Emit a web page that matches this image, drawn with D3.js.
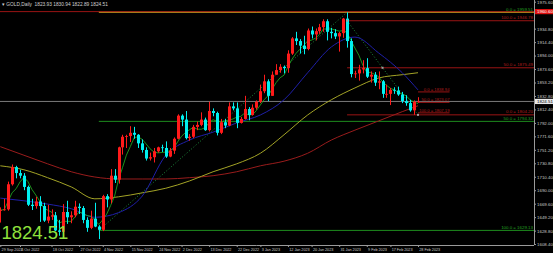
<!DOCTYPE html>
<html>
<head>
<meta charset="utf-8">
<script src="https://cdn.jsdelivr.net/npm/d3@7"></script>
<style>
  body { margin: 0; background: #000; }
  svg { display: block; }
  text { font-family: "Liberation Sans", Arial, sans-serif; }
</style>
</head>
<body>
<div id="chart"></div>
<script>
// GOLD, Daily candles (MT4 style, red = up, cyan = down)
const dates = [
  "2022-09-29","2022-09-30","2022-10-03","2022-10-04","2022-10-05","2022-10-06","2022-10-07","2022-10-10","2022-10-11","2022-10-12",
  "2022-10-13","2022-10-14","2022-10-17","2022-10-18","2022-10-19","2022-10-20","2022-10-21","2022-10-24","2022-10-25","2022-10-26",
  "2022-10-27","2022-10-28","2022-10-31","2022-11-01","2022-11-02","2022-11-03","2022-11-04","2022-11-07","2022-11-08","2022-11-09",
  "2022-11-10","2022-11-11","2022-11-14","2022-11-15","2022-11-16","2022-11-17","2022-11-18","2022-11-21","2022-11-22","2022-11-23",
  "2022-11-24","2022-11-25","2022-11-28","2022-11-29","2022-11-30","2022-12-01","2022-12-02","2022-12-05","2022-12-06","2022-12-07",
  "2022-12-08","2022-12-09","2022-12-12","2022-12-13","2022-12-14","2022-12-15","2022-12-16","2022-12-19","2022-12-20","2022-12-21",
  "2022-12-22","2022-12-23","2022-12-27","2022-12-28","2022-12-29","2022-12-30","2023-01-03","2023-01-04","2023-01-05","2023-01-06",
  "2023-01-09","2023-01-10","2023-01-11","2023-01-12","2023-01-13","2023-01-16","2023-01-17","2023-01-18","2023-01-19","2023-01-20",
  "2023-01-23","2023-01-24","2023-01-25","2023-01-26","2023-01-27","2023-01-30","2023-01-31","2023-02-01","2023-02-02","2023-02-03",
  "2023-02-06","2023-02-07","2023-02-08","2023-02-09","2023-02-10","2023-02-13","2023-02-14","2023-02-15","2023-02-16","2023-02-17",
  "2023-02-20","2023-02-21","2023-02-22","2023-02-23","2023-02-24","2023-02-27","2023-02-28"
];
const opens = [
  1660,1660,1661,1699,1725,1716,1712,1695,1668,1666,
  1673,1666,1644,1650,1652,1629,1627,1657,1649,1652,
  1665,1663,1645,1633,1647,1635,1630,1681,1676,1712,
  1706,1755,1771,1772,1777,1774,1761,1751,1738,1740,
  1749,1755,1754,1741,1750,1768,1803,1797,1769,1771,
  1786,1789,1797,1781,1810,1807,1777,1793,1788,1817,
  1814,1792,1798,1813,1804,1815,1824,1840,1855,1833,
  1865,1872,1877,1875,1897,1920,1916,1909,1904,1932,
  1926,1931,1937,1946,1930,1928,1923,1928,1950,1916,
  1866,1867,1873,1875,1862,1865,1853,1855,1836,1836,
  1842,1841,1835,1825,1822,1811,1823.93
];
const highs = [
  1664,1677,1703,1729,1727,1721,1716,1697,1677,1680,
  1681,1671,1668,1661,1657,1645,1669,1674,1658,1674,
  1670,1666,1649,1659,1671,1637,1683,1684,1722,1722,
  1756,1774,1774,1787,1786,1775,1767,1755,1747,1754,
  1756,1759,1764,1754,1770,1805,1805,1810,1775,1789,
  1794,1808,1800,1824,1814,1809,1798,1798,1823,1823,
  1823,1801,1833,1816,1820,1826,1850,1865,1858,1870,
  1881,1881,1879,1902,1922,1930,1919,1924,1935,1938,
  1935,1942,1949,1949,1936,1934,1930,1951,1959.51,1920,
  1871,1880,1887,1890,1870,1869,1870,1857,1850,1845,
  1846,1847,1839,1834,1827,1826,1830.94
];
const lows = [
  1641,1659,1659,1697,1708,1708,1690,1666,1660,1662,
  1642,1642,1640,1645,1628,1621,1618,1639,1640,1649,
  1654,1640,1627,1631,1634,1616,1628,1664,1670,1701,
  1700,1744,1754,1763,1768,1754,1747,1735,1735,1732,
  1747,1748,1739,1740,1745,1767,1787,1767,1765,1769,
  1781,1787,1780,1779,1802,1773,1775,1784,1787,1811,
  1784,1791,1797,1796,1803,1812,1822,1837,1825,1833,
  1865,1868,1867,1868,1895,1910,1897,1896,1902,1920,
  1917,1927,1930,1917,1920,1919,1900,1921,1906,1861,
  1860,1856,1867,1860,1853,1848,1843,1830,1830,1819,
  1836,1833,1822,1818,1809,1804.2,1822.89
];
const closes = [
  1660,1661,1699,1725,1716,1712,1695,1668,1666,1673,
  1666,1644,1650,1652,1629,1627,1657,1649,1652,1665,
  1663,1645,1633,1647,1635,1630,1681,1676,1712,1706,
  1755,1771,1772,1777,1774,1761,1751,1738,1740,1749,
  1755,1754,1741,1750,1768,1803,1797,1769,1771,1786,
  1789,1797,1781,1810,1807,1777,1793,1788,1817,1814,
  1792,1798,1813,1804,1815,1824,1840,1855,1833,1865,
  1872,1877,1875,1897,1920,1916,1909,1904,1932,1926,
  1931,1937,1946,1930,1928,1923,1928,1950,1916,1866,
  1867,1873,1875,1862,1865,1853,1855,1836,1836,1842,
  1841,1835,1825,1822,1811,1823.93,1824.51
];

// slower moving averages, every 6 bars
const maIdx     = [0,6,12,18,24,30,36,42,48,54,60,66,72,78,84,90,96,102,106];
const blueMA    = [1678,1674,1669,1662,1649,1656,1681,1743,1766,1778,1792,1804,1827,1868,1907,1922,1898,1868,1842];
const yellowMA  = [1727,1721,1709,1695,1677,1680,1686,1693,1704,1718,1730,1746,1774,1804,1827,1845,1860,1865,1868];
const redMA     = [1756,1743,1730,1718,1710,1707,1707,1707,1709,1712,1718,1727,1734,1746,1766,1781,1795,1809,1818];

// price axis ticks
const priceTicks = [1975.60,1934.80,1914.40,1894.00,1873.60,1853.20,1832.80,1812.40,1792.00,
  1771.60,1751.20,1730.80,1710.40,1690.00,1669.60,1649.20,1628.80,1608.40];
// time axis ticks
const timeTicks = ["2022-09-29","2022-10-06","2022-10-18","2022-10-27","2022-11-04","2022-11-15",
  "2022-11-24","2022-12-02","2022-12-13","2022-12-22","2023-01-03","2023-01-12","2023-01-20",
  "2023-01-31","2023-02-09","2023-02-17","2023-02-28"];

// fibonacci objects and lines
const greenFib = { from: "2022-11-03", to: "2023-02-02", levels: [0.0, 50.0, 100.0], values: [1959.51, 1794.32, 1629.13] };
const redFib   = { from: "2023-02-02", to: "2023-02-28", levels: [100.0, 50.0, 0.0], values: [1946.78, 1875.49, 1804.20] };
const smallFib = { from: "2023-02-28", bars: 8, levels: [0.0, 50.0, 100.0], values: [1838.94, 1823.07, 1807.19] };
const redHLine = 1960.60;
const lastPrice = 1824.51;
const header = "\u25BE GOLD,Daily  1823.93 1830.94 1822.89 1824.51";

// layout
const W = 553, H = 253, plotR = 534, plotB = 245;
const svg = d3.select("#chart").append("svg").attr("width", W).attr("height", H)
  .style("background", "#000");

const x = d3.scaleLinear().domain([0, dates.length - 1]).range([0.3, 418]);
const y = d3.scaleLinear().domain([1607.0, 1978.2]).range([plotB, 0]);
const xd = d => x(dates.indexOf(d));

svg.append("defs").append("clipPath").attr("id", "clip")
  .append("rect").attr("width", plotR).attr("height", plotB);
const plot = svg.append("g").attr("clip-path", "url(#clip)");

// horizontal lines
plot.append("line").attr("x1", 0).attr("x2", plotR)
  .attr("y1", y(redHLine)).attr("y2", y(redHLine)).attr("stroke", "#9a1414");
plot.append("line").attr("x1", 0).attr("x2", plotR)
  .attr("y1", y(lastPrice)).attr("y2", y(lastPrice)).attr("stroke", "#7a7a7a");

// green fib
greenFib.values.forEach((v, i) => {
  plot.append("line").attr("x1", xd(greenFib.from)).attr("x2", plotR)
    .attr("y1", y(v)).attr("y2", y(v))
    .attr("stroke", i === 0 ? "#c8921e" : "#1e8c1e");
  plot.append("text").attr("x", plotR - 1).attr("y", y(v) - 1.5)
    .attr("text-anchor", "end").attr("font-size", 4.4).attr("fill", "#22a022")
    .text(`${greenFib.levels[i].toFixed(1)}  = ${v.toFixed(2)}`);
});
plot.append("line").attr("x1", xd(greenFib.from)).attr("x2", xd(greenFib.to))
  .attr("y1", y(greenFib.values[2])).attr("y2", y(greenFib.values[0]))
  .attr("stroke", "#1e8c3c").attr("stroke-dasharray", "1,2");

// red fib
redFib.values.forEach((v, i) => {
  plot.append("line").attr("x1", xd(redFib.from)).attr("x2", plotR)
    .attr("y1", y(v)).attr("y2", y(v)).attr("stroke", "#9a1414");
  plot.append("text").attr("x", plotR - 1).attr("y", y(v) - 1.5)
    .attr("text-anchor", "end").attr("font-size", 4.4).attr("fill", "#b01c1c")
    .text(`${redFib.levels[i].toFixed(1)}  = ${v.toFixed(2)}`);
});
plot.append("line").attr("x1", xd(redFib.from)).attr("x2", xd(redFib.to))
  .attr("y1", y(redFib.values[0])).attr("y2", y(redFib.values[2]))
  .attr("stroke", "#1e8c3c").attr("stroke-dasharray", "1,2");

// small fib at the last bar
const sf0 = dates.indexOf(smallFib.from);
smallFib.values.forEach((v, i) => {
  plot.append("line").attr("x1", x(sf0)).attr("x2", x(sf0 + smallFib.bars))
    .attr("y1", y(v)).attr("y2", y(v)).attr("stroke", "#9a1414");
  plot.append("text").attr("x", x(sf0 + smallFib.bars)).attr("y", y(v) - 1.2)
    .attr("text-anchor", "end").attr("font-size", 4.2).attr("fill", "#b01c1c")
    .text(`${smallFib.levels[i].toFixed(1)}  = ${v.toFixed(2)}`);
});

// moving averages
const maLine = d3.line().x((d, i) => x(maIdx[i])).y(d => y(d)).curve(d3.curveMonotoneX);
plot.append("path").datum(redMA).attr("d", maLine).attr("fill", "none").attr("stroke", "#991c1c");
plot.append("path").datum(yellowMA).attr("d", maLine).attr("fill", "none").attr("stroke", "#a3a326");
plot.append("path").datum(blueMA).attr("d", maLine).attr("fill", "none").attr("stroke", "#1f1fa8");

// fast MA (5 closes)
const fast = closes.map((c, i) => d3.mean(closes.slice(Math.max(0, i - 4), i + 1)));
plot.append("path").datum(fast)
  .attr("d", d3.line().x((d, i) => x(i)).y(d => y(d)))
  .attr("fill", "none").attr("stroke", "#1fa01f").attr("stroke-width", 0.9);

// candles
const bars = dates.map((d, i) => ({ i, o: opens[i], h: highs[i], l: lows[i], c: closes[i] }));
const col = d => d.c >= d.o ? "#ff1a1a" : "#00f0f0";
const cg = plot.append("g");
cg.selectAll("line").data(bars).enter().append("line")
  .attr("x1", d => Math.round(x(d.i)) + 0.5).attr("x2", d => Math.round(x(d.i)) + 0.5)
  .attr("y1", d => y(d.h)).attr("y2", d => y(d.l))
  .attr("stroke", col).attr("stroke-width", 1);
cg.selectAll("rect").data(bars).enter().append("rect")
  .attr("x", d => Math.round(x(d.i)) - 1)
  .attr("width", 3)
  .attr("y", d => y(Math.max(d.o, d.c)))
  .attr("height", d => Math.max(0.8, Math.abs(y(d.o) - y(d.c))))
  .attr("fill", col);

// trend line handles
[[redFib.from, redFib.values[0]], [null, redFib.values[1]], [redFib.to, redFib.values[2]]].forEach(([d, v]) => {
  const xi = d ? xd(d) : (xd(redFib.from) + xd(redFib.to)) / 2;
  plot.append("rect").attr("x", xi - 1).attr("y", y(v) - 1).attr("width", 2).attr("height", 2)
    .attr("fill", "#a0a0a0");
});

// axes
const yAxis = svg.append("g").attr("transform", `translate(${plotR},0)`)
  .call(d3.axisRight(y).tickValues(priceTicks).tickFormat(d3.format(".2f")).tickSize(2).tickPadding(1));
yAxis.select(".domain").attr("stroke", "#9a9a9a").attr("d", `M0.5,0V${plotB}`);
yAxis.selectAll(".tick line").attr("stroke", "#9a9a9a");
yAxis.selectAll("text").attr("fill", "#c8c8c8").attr("font-size", 4.4)
  .attr("font-family", "Liberation Sans, Arial, sans-serif");

const fmt = d3.timeFormat("%-d %b %Y");
const parse = d3.timeParse("%Y-%m-%d");
const xAxis = svg.append("g").attr("transform", `translate(0,${plotB})`)
  .call(d3.axisBottom(x).tickValues(timeTicks.map(d => dates.indexOf(d)))
    .tickFormat(i => fmt(parse(dates[i]))).tickSize(2).tickPadding(1));
xAxis.select(".domain").attr("stroke", "#9a9a9a").attr("d", `M0,0.5H${plotR}`);
xAxis.selectAll(".tick line").attr("stroke", "#9a9a9a");
xAxis.selectAll("text").attr("fill", "#c8c8c8").attr("font-size", 3.8)
  .attr("text-anchor", "start").attr("dx", 0.8).attr("letter-spacing", -0.05)
  .attr("font-family", "Liberation Sans, Arial, sans-serif");

// axis price boxes
function priceBox(v, bg, fg, label) {
  const g = svg.append("g").attr("transform", `translate(${plotR + 1},${y(v)})`);
  g.append("rect").attr("x", 0).attr("y", -2.6).attr("width", 18).attr("height", 5.2).attr("fill", bg);
  g.append("text").attr("x", 2).attr("y", 1.6).attr("font-size", 4.4).attr("fill", fg).text(label);
}
priceBox(redHLine, "#e01010", "#ffffff", redHLine.toFixed(2));
priceBox(lastPrice, "#e8e8e8", "#000000", lastPrice.toFixed(2));

// header and big price
svg.append("text").attr("x", 2).attr("y", 5.5).attr("font-size", 4.8).attr("fill", "#d0d0d0")
  .attr("xml:space", "preserve").text(header);
svg.append("text").attr("x", 1.5).attr("y", 239).attr("font-size", 18.5).attr("fill", "#8fe23c")
  .text(lastPrice.toFixed(2));
</script>
</body>
</html>
